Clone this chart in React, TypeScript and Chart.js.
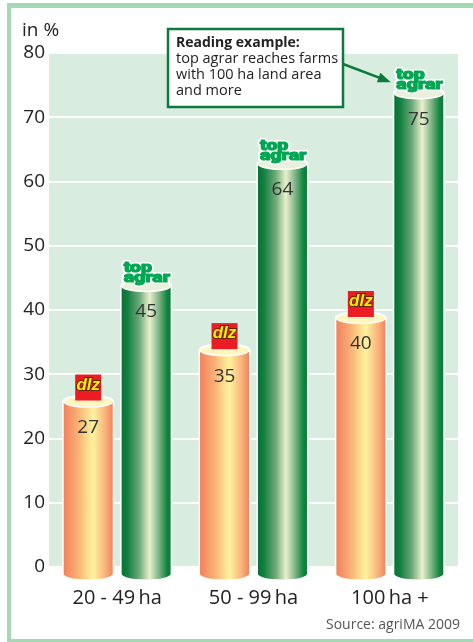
import { useEffect, useRef } from "react";
import { Chart, registerables } from "chart.js";

Chart.register(...registerables);

// data
const categories = ["20 - 49\u2009ha", "50 - 99\u2009ha", "100\u2009ha +"];
const seriesNames = ["dlz", "top agrar"];
const dlzValues = [27, 35, 40];
const topAgrarValues = [45, 64, 75];
const yMin = 0;
const yMax = 80;
const yStep = 10;
const unitLabel = "in %";
const sourceLabel = "Source: agriMA 2009";
const noteTitle = "Reading example:";
const noteLines = ["top agrar reaches farms", "with 100 ha land area", "and more"];

const FONT = "'Open Sans', 'Noto Sans', sans-serif";
const SHIFT = 8; // cylinders sit a little below their value line
const RY = 5.5;

const looks = [
  {
    stops: [
      [0, "#f2815d"],
      [0.3, "#fab276"],
      [0.6, "#fff39e"],
      [0.85, "#f9b27b"],
      [1, "#f3845e"],
    ],
    top: "#fff6bf",
  },
  {
    stops: [
      [0, "#077235"],
      [0.12, "#12803f"],
      [0.36, "#6ea97a"],
      [0.57, "#e9f1cd"],
      [0.76, "#7db385"],
      [0.92, "#12873f"],
      [1, "#097938"],
    ],
    top: "#e9f1da",
  },
];

function drawCylinder(ctx: CanvasRenderingContext2D, x: number, y: number, base: number, w: number, look: any) {
  const rx = w / 2;
  const top = y + SHIFT;
  const bot = base + SHIFT;
  const grad = ctx.createLinearGradient(x - rx, 0, x + rx, 0);
  look.stops.forEach((s: any) => grad.addColorStop(s[0], s[1]));

  ctx.beginPath();
  ctx.moveTo(x - rx, top);
  ctx.lineTo(x - rx, bot);
  ctx.ellipse(x, bot, rx, RY, 0, Math.PI, 0, true);
  ctx.lineTo(x + rx, top);
  ctx.ellipse(x, top, rx, RY, 0, 0, -Math.PI, true);
  ctx.closePath();
  ctx.strokeStyle = "#ffffff";
  ctx.lineWidth = 3;
  ctx.stroke();
  ctx.fillStyle = grad;
  ctx.fill();

  ctx.beginPath();
  ctx.ellipse(x, top, rx, RY, 0, 0, Math.PI * 2);
  ctx.fillStyle = look.top;
  ctx.fill();
  ctx.lineWidth = 1.5;
  ctx.stroke();
}

function drawDlz(ctx: CanvasRenderingContext2D, x: number, y: number) {
  const s = 26;
  ctx.fillStyle = "#ec1c24";
  ctx.fillRect(x - s / 2, y + 7 - s, s, s);
  ctx.font = "italic bold 17px 'Liberation Sans', sans-serif";
  ctx.textAlign = "center";
  ctx.textBaseline = "alphabetic";
  ctx.lineWidth = 2;
  ctx.strokeStyle = "#6a2400";
  ctx.strokeText("dlz", x, y - 4);
  ctx.fillStyle = "#ffec00";
  ctx.fillText("dlz", x, y - 4);
}

function drawTopAgrar(ctx: CanvasRenderingContext2D, left: number, y: number) {
  ctx.save();
  ctx.translate(left + 2, y);
  ctx.scale(1.3, 1);
  ctx.font = "900 15px Roboto, sans-serif";
  ctx.textAlign = "left";
  ctx.textBaseline = "alphabetic";
  ctx.lineJoin = "round";
  ctx.strokeStyle = "#ffffff";
  ctx.lineWidth = 4;
  ctx.strokeText("top", 0, -6);
  ctx.strokeText("agrar", 0, 4);
  ctx.fillStyle = "#00a651";
  ctx.strokeStyle = "#00a651";
  ctx.lineWidth = 1;
  ctx.fillText("top", 0, -6);
  ctx.fillText("agrar", 0, 4);
  ctx.strokeText("top", 0, -6);
  ctx.strokeText("agrar", 0, 4);
  ctx.restore();
}

const decorPlugin = {
  id: "decor",
  beforeDraw(chart: any) {
    const { ctx, chartArea } = chart;
    ctx.save();
    ctx.fillStyle = "#d9ece0";
    ctx.fillRect(chartArea.left, chartArea.top, chartArea.right - chartArea.left, chartArea.bottom - chartArea.top);
    ctx.restore();
  },
  afterDatasetsDraw(chart: any) {
    const ctx: CanvasRenderingContext2D = chart.ctx;
    ctx.save();
    chart.data.datasets.forEach((ds: any, di: number) => {
      const meta = chart.getDatasetMeta(di);
      meta.data.forEach((bar: any, i: number) => {
        const { x, y, base, width } = bar.getProps(["x", "y", "base", "width"], true);
        drawCylinder(ctx, x, y, base, width, looks[di]);
        ctx.font = `19px ${FONT}`;
        ctx.fillStyle = "#333333";
        ctx.textAlign = "center";
        ctx.textBaseline = "middle";
        ctx.fillText(String(ds.data[i]), x, y + 34);
        if (di === 0) drawDlz(ctx, x, y);
        else drawTopAgrar(ctx, x - width / 2, y);
      });
    });
    ctx.restore();
  },
  afterDraw(chart: any) {
    const ctx: CanvasRenderingContext2D = chart.ctx;
    ctx.save();
    // frame
    ctx.fillStyle = "#a5d9b6";
    ctx.fillRect(7, 3, 473, 5);
    ctx.fillRect(7, 3, 4, 639);
    ctx.fillRect(7, 639, 473, 3);

    ctx.fillStyle = "#222222";
    ctx.font = `19px ${FONT}`;
    ctx.textAlign = "left";
    ctx.textBaseline = "middle";
    ctx.fillText(unitLabel, 22, 31);

    ctx.fillStyle = "#555555";
    ctx.font = `14px ${FONT}`;
    ctx.textAlign = "right";
    ctx.fillText(sourceLabel, 460, 625);

    // reading example note with arrow to the last top agrar bar
    const bar = chart.getDatasetMeta(1).data[2];
    const tipX = bar.x - 28;
    const tipY = bar.y - 3;
    const sx = 343;
    const sy = 64;
    ctx.strokeStyle = "#0d7a3c";
    ctx.fillStyle = "#0d7a3c";
    ctx.lineWidth = 2.5;
    const ang = Math.atan2(tipY - sy, tipX - sx);
    ctx.beginPath();
    ctx.moveTo(sx, sy);
    ctx.lineTo(tipX - 9 * Math.cos(ang), tipY - 9 * Math.sin(ang));
    ctx.stroke();
    ctx.beginPath();
    ctx.moveTo(tipX, tipY);
    ctx.lineTo(tipX - 13 * Math.cos(ang) + 5 * Math.sin(ang), tipY - 13 * Math.sin(ang) - 5 * Math.cos(ang));
    ctx.lineTo(tipX - 13 * Math.cos(ang) - 5 * Math.sin(ang), tipY - 13 * Math.sin(ang) + 5 * Math.cos(ang));
    ctx.closePath();
    ctx.fill();

    ctx.fillStyle = "#ffffff";
    ctx.fillRect(168, 29, 175, 78);
    ctx.strokeRect(168, 29, 175, 78);

    ctx.fillStyle = "#222222";
    ctx.textAlign = "left";
    ctx.font = `bold 14px ${FONT}`;
    ctx.fillText(noteTitle, 176, 43);
    ctx.font = `14.5px ${FONT}`;
    noteLines.forEach((line, k) => ctx.fillText(line, 176, 59 + k * 15.7));
    ctx.restore();
  },
};

export default function App() {
  const chartRef = useRef<HTMLCanvasElement>(null);
  const chartInstance = useRef<Chart | null>(null);

  useEffect(() => {
    if (!chartRef.current) return;
    if (chartInstance.current) chartInstance.current.destroy();

    chartInstance.current = new Chart(chartRef.current, {
      type: "bar",
      data: {
        labels: categories,
        datasets: [
          { label: seriesNames[0], data: dlzValues, backgroundColor: "rgba(0,0,0,0)" },
          { label: seriesNames[1], data: topAgrarValues, backgroundColor: "rgba(0,0,0,0)" },
        ],
      },
      options: {
        responsive: false,
        animation: false,
        layout: { padding: { left: 0, top: 53, right: 15, bottom: 15 } },
        datasets: { bar: { categoryPercentage: 0.85, barPercentage: 0.845 } },
        plugins: { legend: { display: false }, tooltip: { enabled: true } },
        scales: {
          x: {
            grid: { display: false },
            border: { display: false },
            ticks: { color: "#222222", font: { family: FONT, size: 20 }, padding: 11 },
            afterFit: (scale: any) => {
              scale.height = 60;
            },
          },
          y: {
            min: yMin,
            max: yMax,
            grid: { color: "#ffffff", lineWidth: 2, drawTicks: false },
            border: { display: false },
            ticks: { stepSize: yStep, color: "#222222", font: { family: FONT, size: 19 }, padding: 4 },
            afterFit: (scale: any) => {
              scale.width = 49;
            },
          },
        },
      },
      plugins: [decorPlugin],
    });

    return () => {
      if (chartInstance.current) {
        chartInstance.current.destroy();
        chartInstance.current = null;
      }
    };
  }, []);

  return (
    <div style={{ position: "absolute", left: 0, top: 0, width: 473, height: 642, background: "#ffffff" }}>
      <canvas ref={chartRef} width={473} height={642} style={{ width: 473, height: 642 }} />
    </div>
  );
}
